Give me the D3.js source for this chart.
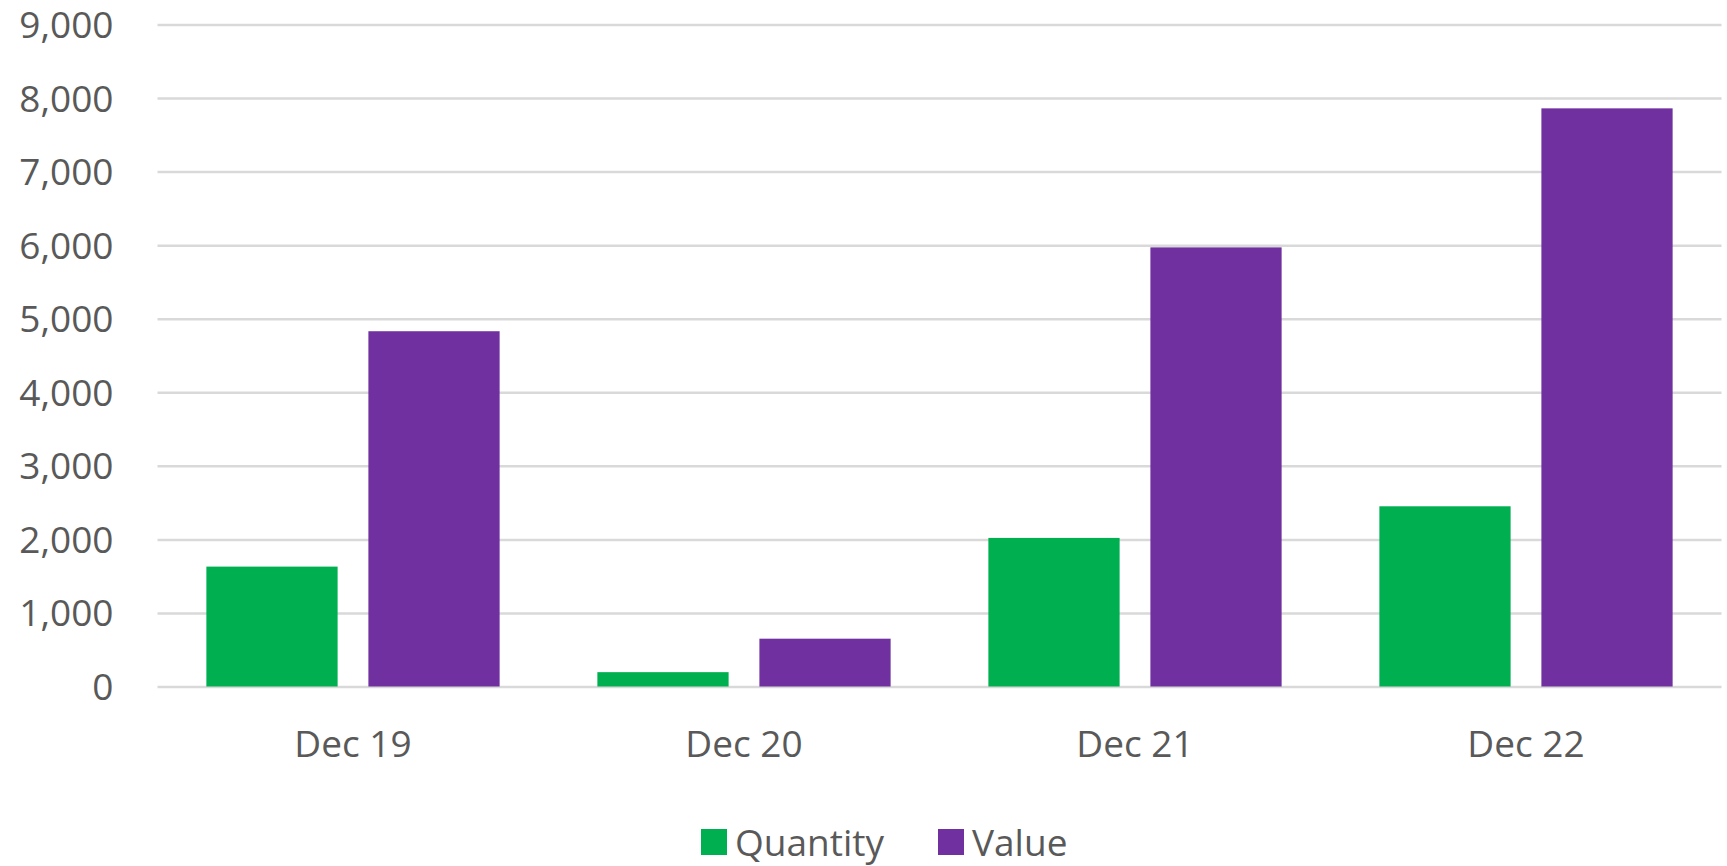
<!DOCTYPE html>
<html>
<head>
<meta charset="utf-8">
<script src="https://cdn.jsdelivr.net/npm/d3@7"></script>
<style>
  html, body { margin: 0; padding: 0; background: #fff; }
  svg { display: block; }
  svg text { font-family: "Open Sans", "Noto Sans", sans-serif; }
</style>
</head>
<body>
<svg id="chart" width="1727" height="866"></svg>
<script>
// data
const categories = ["Dec 19", "Dec 20", "Dec 21", "Dec 22"];
const seriesNames = ["Quantity", "Value"];
const quantity = [1630, 195, 2020, 2450];
const value = [4830, 650, 5970, 7860];
const yTicks = [0, 1000, 2000, 3000, 4000, 5000, 6000, 7000, 8000, 9000];

const colors = {Quantity: "#00B050", Value: "#7030A0"};
const textColor = "#595959";
const gridColor = "#D9D9D9";
const fontFam = '"Open Sans", "Noto Sans", sans-serif';

const margin = {top: 24.5, right: 5.5, bottom: 179.5, left: 157.5};
const W = 1727, H = 866;
const width = W - margin.left - margin.right;
const height = H - margin.top - margin.bottom;

const svg = d3.select("#chart");
const g = svg.append("g").attr("transform", `translate(${margin.left},${margin.top})`);

// scales
const x0 = d3.scaleBand().domain(categories).range([0, width]).padding(0);
const catW = x0.bandwidth();
const outer = catW * 0.125; // gap between groups
const x1 = d3.scaleBand().domain(seriesNames)
  .range([outer, catW - outer])
  .paddingInner(0.19).paddingOuter(0);
const y = d3.scaleLinear().domain([0, 9000]).range([height, 0]);

// gridlines + y labels
const yAxis = d3.axisLeft(y).tickValues(yTicks).tickSize(-width).tickFormat(d3.format(","));
const yG = g.append("g").call(yAxis).attr("font-family", fontFam).attr("font-size", 37);
yG.select(".domain").remove();
yG.selectAll(".tick line").attr("stroke", gridColor).attr("stroke-width", 2.5);
yG.selectAll(".tick text")
  .attr("x", -44)
  .attr("fill", textColor)
  .attr("dy", "0.35em");

// bars
const rows = categories.map((c, i) => ({cat: c, vals: [
  {key: "Quantity", v: quantity[i]},
  {key: "Value", v: value[i]}
]}));

const grp = g.selectAll(".grp").data(rows).join("g")
  .attr("class", "grp")
  .attr("transform", d => `translate(${x0(d.cat)},0)`);

grp.selectAll("rect").data(d => d.vals).join("rect")
  .attr("x", d => x1(d.key))
  .attr("width", x1.bandwidth())
  .attr("y", d => y(d.v))
  .attr("height", d => y(0) - y(d.v))
  .attr("fill", d => colors[d.key]);

// x axis labels
const xAxis = d3.axisBottom(x0).tickSize(0);
const xG = g.append("g").attr("transform", `translate(0,${height})`).call(xAxis)
  .attr("font-family", fontFam).attr("font-size", 37);
xG.select(".domain").remove();
xG.selectAll(".tick text")
  .attr("y", 0)
  .attr("dy", 0)
  .attr("transform", "translate(0,70)")
  .attr("fill", textColor);

// legend
const legend = svg.append("g").attr("transform", "translate(701,829)");
const items = [
  {name: "Quantity", x: 0},
  {name: "Value", x: 237}
];
const li = legend.selectAll(".li").data(items).join("g")
  .attr("class", "li")
  .attr("transform", d => `translate(${d.x},0)`);
li.append("rect").attr("width", 26).attr("height", 26).attr("fill", d => colors[d.name]);
li.append("text")
  .attr("x", 34).attr("y", 27)
  .attr("fill", textColor)
  .attr("font-size", "37px")
  .text(d => d.name);
</script>
</body>
</html>
